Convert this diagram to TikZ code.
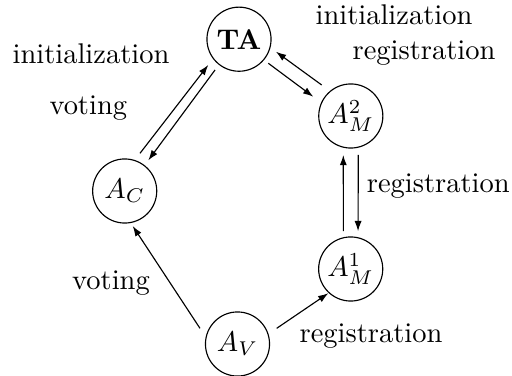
\documentclass[tikz,border=0pt]{standalone}
\usetikzlibrary{arrows.meta}
\begin{document}
\begin{tikzpicture}[x=0.351pt,y=0.351pt,
  state/.style={draw,circle,minimum size=22.5pt,inner sep=0pt,line width=0.4pt},
  lbl/.style={inner sep=0pt},
  arr/.style={-{Latex[length=3.6pt,width=2.5pt]},line width=0.4pt}]
\useasboundingbox (0,0) rectangle (512,-376);
% nodes
\node[state] (TA)  at (239,-39.2)  {\textbf{TA}};
\node[state] (AC)  at (124.7,-191) {$A_C$};
\node[state] (AM2) at (350.8,-116) {$A_M^2$};
\node[state] (AM1) at (350.7,-269) {$A_M^1$};
\node[state] (AV)  at (237.5,-344) {$A_V$};
% labels
\node[lbl] (l1) at (91,-53.3)   {initialization};
\node[lbl] (l2) at (88.3,-108)  {voting};
\node[lbl] (l3) at (394,-14.5)  {initialization};
\node[lbl] (l4) at (424,-53)    {registration};
\node[lbl] (l5) at (438.3,-186) {registration};
\node[lbl] (l6) at (111,-283)   {voting};
\node[lbl] (l7) at (371,-336)   {registration};
% connectors
\draw[arr] ([shift={(67.9:40.7)}]AC.center) -- ([shift={(220:40.1)}]TA.center);
\draw[arr] ([shift={(232.1:39)}]TA.center) -- ([shift={(52.4:38.7)}]AC.center);
\draw[arr] ([shift={(133.2:42.5)}]AM2.center) -- ([shift={(341.3:39)}]TA.center);
\draw[arr] ([shift={(320.6:37.9)}]TA.center) -- ([shift={(152.8:42.2)}]AM2.center);
\draw[arr] ([shift={(101:38.5)}]AM1.center) -- ([shift={(259.1:39.7)}]AM2.center);
\draw[arr] ([shift={(280.9:39.7)}]AM2.center) -- ([shift={(79:38.5)}]AM1.center);
\draw[arr] ([shift={(157.3:40.7)}]AV.center) -- ([shift={(282.9:35.9)}]AC.center);
\draw[arr] ([shift={(21.8:42.2)}]AV.center) -- ([shift={(227.3:33)}]AM1.center);
\end{tikzpicture}
\end{document}
